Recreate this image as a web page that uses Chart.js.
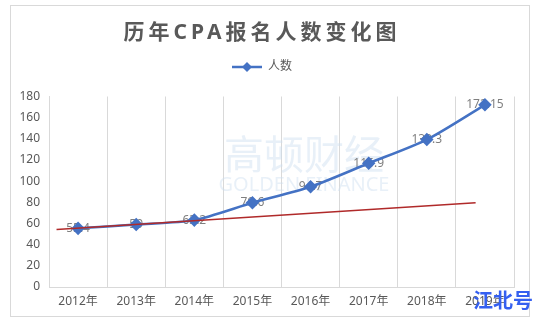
<!DOCTYPE html>
<html><head><meta charset="utf-8">
<script src="https://cdn.jsdelivr.net/npm/chart.js@4"></script>
<style>html,body{margin:0;padding:0;background:#fff}#wrap{position:relative;width:540px;height:320px}</style>
</head><body><div id="wrap"><canvas id="c" width="540" height="320"></canvas></div>
<script>
const categories = ['2012年','2013年','2014年','2015年','2016年','2017年','2018年','2019年'];
const applicants = [55.4, 59, 63.2, 79.6, 94.7, 116.9, 139.3, 172.15];
const trendX = [-0.37, 6.84];
const trendY = [54.3, 79.6];
const yMin = 0, yMax = 180, yStep = 20;
const titleText = '历年CPA报名人数变化图';
const seriesName = '人数';

const FONT = '"Noto Sans", "Noto Sans CJK SC", sans-serif';
const BLUE = '#4472C4';

// legend marker: line with diamond
const legendIcon = document.createElement('canvas');
legendIcon.width = 30; legendIcon.height = 12;
(function(){
  const g = legendIcon.getContext('2d');
  g.strokeStyle = BLUE; g.lineWidth = 2.5;
  g.beginPath(); g.moveTo(0,6); g.lineTo(30,6); g.stroke();
  g.fillStyle = BLUE;
  g.beginPath(); g.moveTo(15,1); g.lineTo(20,6); g.lineTo(15,11); g.lineTo(10,6); g.closePath(); g.fill();
})();

const decor = {
  id: 'decor',
  beforeDraw(chart) {
    const ctx = chart.ctx;
    ctx.save();
    ctx.fillStyle = '#fff';
    ctx.fillRect(0, 0, chart.width, chart.height);
    ctx.strokeStyle = '#d9d9d9'; ctx.lineWidth = 1;
    ctx.strokeRect(10.5, 5.5, 519, 311);
    ctx.restore();
    const tb = chart.titleBlock;
    if (tb && !tb._spaced) {
      const orig = tb.draw.bind(tb);
      tb.draw = function(a) {
        const c = chart.ctx; c.save(); c.letterSpacing = '4px'; orig(a); c.letterSpacing = '0px'; c.restore();
      };
      tb._spaced = true;
    }
  },
  beforeDatasetsDraw(chart) {
    const ctx = chart.ctx;
    ctx.save();
    // faint watermark
    ctx.textAlign = 'center'; ctx.textBaseline = 'middle';
    ctx.fillStyle = 'rgba(205,222,240,0.45)';
    ctx.font = '40px "Noto Sans CJK SC"';
    ctx.fillText('高顿财经', 304, 154);
    ctx.font = '20px "Noto Sans", sans-serif';
    ctx.fillText('GOLDEN FINANCE', 304, 185);
    // data labels
    const meta = chart.getDatasetMeta(0);
    ctx.fillStyle = '#7f7f7f';
    ctx.font = '12px ' + FONT;
    meta.data.forEach((pt, i) => {
      ctx.fillText(String(applicants[i]), pt.x, pt.y);
    });
    ctx.restore();
  },
  afterDraw(chart) {
    const ctx = chart.ctx;
    ctx.save();
    ctx.textAlign = 'center'; ctx.textBaseline = 'middle';
    ctx.fillStyle = '#3560f0';
    ctx.font = 'bold 20px "Noto Sans CJK SC"';
    ctx.fillText('江北号', 503, 300);
    ctx.restore();
  }
};

new Chart(document.getElementById('c'), {
  type: 'line',
  data: {
    labels: categories,
    datasets: [
      {
        label: seriesName,
        data: applicants,
        xAxisID: 'x', yAxisID: 'y',
        borderColor: BLUE, backgroundColor: BLUE,
        borderWidth: 2.5, tension: 0.25,
        pointStyle: 'rectRot', pointRadius: 5,
        pointBackgroundColor: BLUE, pointBorderColor: BLUE,
        order: 1
      },
      {
        label: 'trend',
        data: trendX.map((x, i) => ({ x: x, y: trendY[i] })),
        xAxisID: 'x2', yAxisID: 'y',
        borderColor: '#b02a2a', borderWidth: 1.5,
        pointRadius: 0, fill: false, tension: 0,
        order: 0
      }
    ]
  },
  options: {
    responsive: false,
    animation: false,
    devicePixelRatio: 1,
    layout: { padding: { top: 0, left: 10, right: 26, bottom: 8 } },
    plugins: {
      title: {
        display: true, text: titleText, color: '#595959',
        font: { size: 21, weight: 'bold', family: FONT, lineHeight: 1.2 },
        padding: { top: 20, bottom: 5.8 }
      },
      legend: {
        display: true,
        labels: {
          filter: (item) => item.datasetIndex === 0,
          usePointStyle: true, pointStyle: legendIcon, pointStyleWidth: 30,
          color: '#595959', font: { size: 12, family: FONT }, padding: 10
        }
      },
      tooltip: { enabled: false }
    },
    scales: {
      x: {
        type: 'category', offset: true,
        grid: { offset: true, color: '#d9d9d9', lineWidth: 1, drawTicks: false },
        border: { display: true, color: '#d9d9d9', width: 1 },
        ticks: { color: '#595959', font: { size: 12, family: FONT }, padding: 7, maxRotation: 0, autoSkip: false },
        afterFit(s) { s.height = 25; }
      },
      x2: {
        type: 'linear', position: 'top', min: -0.5, max: 7.5,
        grid: { display: false }, border: { display: false },
        ticks: { display: false },
        afterFit(s) { s.height = 13.5; }
      },
      y: {
        min: yMin, max: yMax,
        ticks: { stepSize: yStep, color: '#595959', font: { size: 12, family: FONT }, padding: 9 },
        grid: { display: false, drawTicks: false },
        border: { display: true, color: '#d9d9d9', width: 1 },
        afterFit(s) { s.width = 39; }
      }
    }
  },
  plugins: [decor]
});
</script>
</body></html>
